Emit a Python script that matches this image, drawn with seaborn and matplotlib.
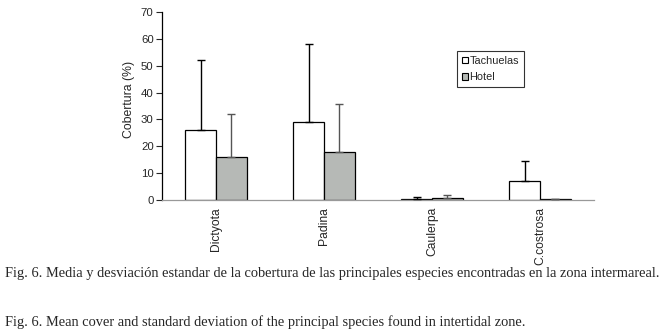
import numpy as np
import pandas as pd
import matplotlib
matplotlib.use("Agg")
import matplotlib.pyplot as plt
import seaborn as sns
from matplotlib.patches import Patch

# =========================
# Data
# =========================
species = ["Dictyota", "Padina", "Caulerpa", "C.costrosa"]
sites = ["Tachuelas", "Hotel"]

mean_tachuelas = [26.0, 29.0, 0.5, 7.0]
mean_hotel = [16.0, 18.0, 0.7, 0.2]

sd_tachuelas = [26.3, 29.2, 0.6, 7.4]
sd_hotel = [16.0, 17.6, 1.1, 0.0]

df = pd.DataFrame({
    "especie": species * 2,
    "sitio": [sites[0]] * 4 + [sites[1]] * 4,
    "cobertura": mean_tachuelas + mean_hotel,
})

colors = {"Tachuelas": "white", "Hotel": "#B5BAB5"}
err_colors = ["black", "#555555"]
sds = [sd_tachuelas, sd_hotel]

# =========================
# Plot
# =========================
sns.set_style("white")
plt.rcParams["font.family"] = ["Liberation Sans", "DejaVu Sans"]

fig = plt.figure(figsize=(6.68, 3.31), dpi=100)
ax = fig.add_axes([162 / 668, 1 - 200 / 331, (594 - 162) / 668, (200 - 12) / 331])

sns.barplot(
    data=df, x="especie", y="cobertura", hue="sitio",
    order=species, hue_order=sites, palette=colors,
    width=0.57, edgecolor="black", linewidth=0.9,
    errorbar=None, legend=False, ax=ax,
)

# upper-only SD error bars
for cont, sd, ec in zip(ax.containers, sds, err_colors):
    xs = [b.get_x() + b.get_width() / 2 for b in cont]
    hs = [b.get_height() for b in cont]
    ax.errorbar(xs, hs, yerr=[np.zeros(len(sd)), sd], fmt="none",
                ecolor=ec, elinewidth=1.0, capsize=3, capthick=1.0, zorder=3)

ax.set_ylim(0, 70)
ax.set_xlim(-0.5, 3.5)
ax.set_yticks(np.arange(0, 71, 10))
ax.set_ylabel("Cobertura (%)", fontsize=8.8)
ax.yaxis.set_label_coords(-0.062, 0.537)
ax.set_xlabel("")

# category labels centred, tick marks at category boundaries
ax.set_xticks(range(len(species)))
ax.set_xticklabels(species, rotation=90, fontsize=8.7)
ax.set_xticks(np.arange(-0.5, 4.0, 1.0), minor=True)
ax.tick_params(axis="x", which="major", length=0, pad=5)
ax.tick_params(axis="x", which="minor", length=4, width=0.8,
               color="#999999", direction="out")
ax.tick_params(axis="y", length=4, width=0.8, direction="out",
               labelsize=8.2, pad=2, left=True)

for side in ["top", "right"]:
    ax.spines[side].set_visible(False)
ax.spines["left"].set_color("black")
ax.spines["left"].set_linewidth(0.9)
ax.spines["bottom"].set_color("#999999")
ax.spines["bottom"].set_linewidth(0.9)

handles = [Patch(facecolor=colors[s], edgecolor="black", linewidth=0.8) for s in sites]
leg = fig.legend(
    handles, sites, loc="upper left",
    bbox_to_anchor=(457 / 668, 1 - 51 / 331), bbox_transform=fig.transFigure,
    fontsize=7.8, frameon=True, fancybox=False, borderaxespad=0,
    handlelength=0.6, handleheight=0.6, handletextpad=0.1,
    borderpad=0.45, labelspacing=0.6,
)
leg.get_frame().set_edgecolor("black")
leg.get_frame().set_linewidth(0.8)

# captions
serif = ["Liberation Serif", "DejaVu Serif"]
fig.text(5 / 668, 1 - 274 / 331,
         "Fig. 6. Media y desviación estandar de la cobertura de las principales especies encontradas en la zona intermareal.",
         family=serif, fontsize=10.35, va="center", ha="left")
fig.text(5 / 668, 1 - 322 / 331,
         "Fig. 6. Mean cover and standard deviation of the principal species found in intertidal zone.",
         family=serif, fontsize=10.35, va="center", ha="left")

fig.savefig("out.png", dpi=100)
